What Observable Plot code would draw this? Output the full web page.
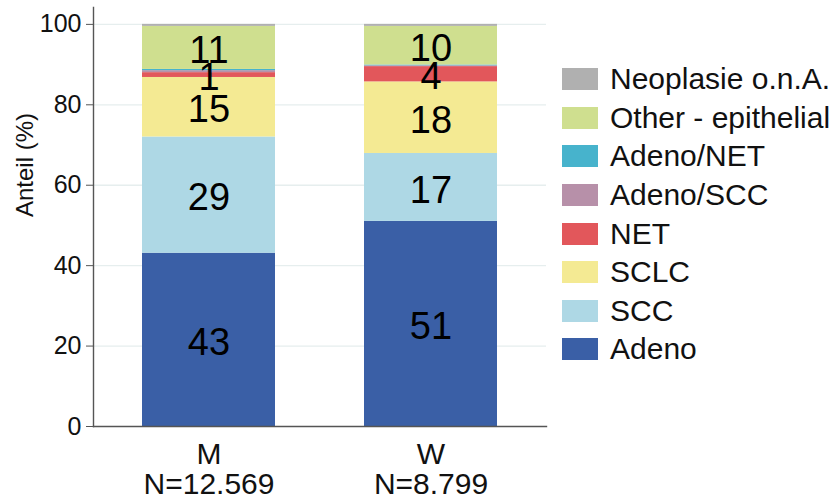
<!DOCTYPE html>
<html><head><meta charset="utf-8">
<script src="https://cdn.jsdelivr.net/npm/d3@7"></script>
<script src="https://cdn.jsdelivr.net/npm/@observablehq/plot@0.6"></script>
<style>
body{margin:0;background:#fff;font-family:"Liberation Sans",Arial,sans-serif;}
#wrap{position:relative;width:835px;height:498px;}
#legend{position:absolute;left:562px;top:60px;}
.row{display:flex;align-items:center;height:38.6px;}
.sw{width:36px;height:22px;margin-right:12px;}
.lab{font-size:30px;color:#111;white-space:nowrap;}
</style></head><body>
<div id="wrap"><div id="chart"></div><div id="legend"></div></div>
<script>
const groups = ["M", "W"];
const groupN = ["N=12.569", "N=8.799"];
const types = ["Adeno", "SCC", "SCLC", "NET", "Adeno/SCC", "Adeno/NET", "Other - epithelial", "Neoplasie o.n.A."];
const colors = ["#3a5fa6", "#aed8e5", "#f4ea93", "#e2575b", "#b790a9", "#47b3cc", "#cfdf8f", "#b0b0b0"];
const valuesM = [43.1, 28.9, 14.8, 1.2, 0.5, 0.3, 10.7, 0.5];
const valuesW = [51.0, 16.9, 17.8, 3.8, 0.2, 0.2, 9.6, 0.5];
const yTicks = [0, 20, 40, 60, 80, 100];

const data = [];
types.forEach((t, i) => {
  data.push({group: "M", type: t, value: valuesM[i]});
  data.push({group: "W", type: t, value: valuesW[i]});
});
const lbl = d => d.value >= 1 ? String(Math.round(d.value)) : "";

const chart = Plot.plot({
  width: 555, height: 498,
  marginLeft: 93, marginRight: 9, marginTop: 7, marginBottom: 72,
  style: {fontFamily: "'Liberation Sans', Arial, sans-serif", background: "#fff", color: "#111"},
  x: {domain: groups, paddingInner: 0.4, paddingOuter: 0.22, label: null},
  y: {domain: [0, 104.2], label: null},
  color: {domain: types, range: colors},
  marks: [
    Plot.ruleY(yTicks.filter(v => v > 0), {stroke: "#e6eeee", strokeWidth: 1.3}),
    Plot.barY(data, {x: "group", y: "value", fill: "type", order: types}),
    Plot.text(data, Plot.stackY({x: "group", y: "value", z: "type", order: types, text: lbl, fontSize: 38, dy: 3, fill: "#000"})),
    Plot.frame({anchor: "left", stroke: "#555", strokeWidth: 1.4}),
    Plot.frame({anchor: "bottom", stroke: "#555", strokeWidth: 1.4}),
    Plot.axisY({ticks: yTicks, tickSize: 7, tickPadding: 5, fontSize: 25, stroke: "#555", label: null}),
    Plot.axisX({tickSize: 0, tickPadding: 16, fontSize: 30, lineHeight: 1.0, tickFormat: (d) => d + "\n" + groupN[groups.indexOf(d)], label: null}),
    Plot.text(["Anteil (%)"], {frameAnchor: "left", dx: -68, dy: 0, rotate: -90, fontSize: 24, fill: "#111"})
  ]
});
document.getElementById("chart").appendChild(chart);

const leg = document.getElementById("legend");
for (let i = types.length - 1; i >= 0; i--) {
  const r = document.createElement("div"); r.className = "row";
  r.innerHTML = `<div class="sw" style="background:${colors[i]}"></div><div class="lab">${types[i]}</div>`;
  leg.appendChild(r);
}
</script></body></html>
